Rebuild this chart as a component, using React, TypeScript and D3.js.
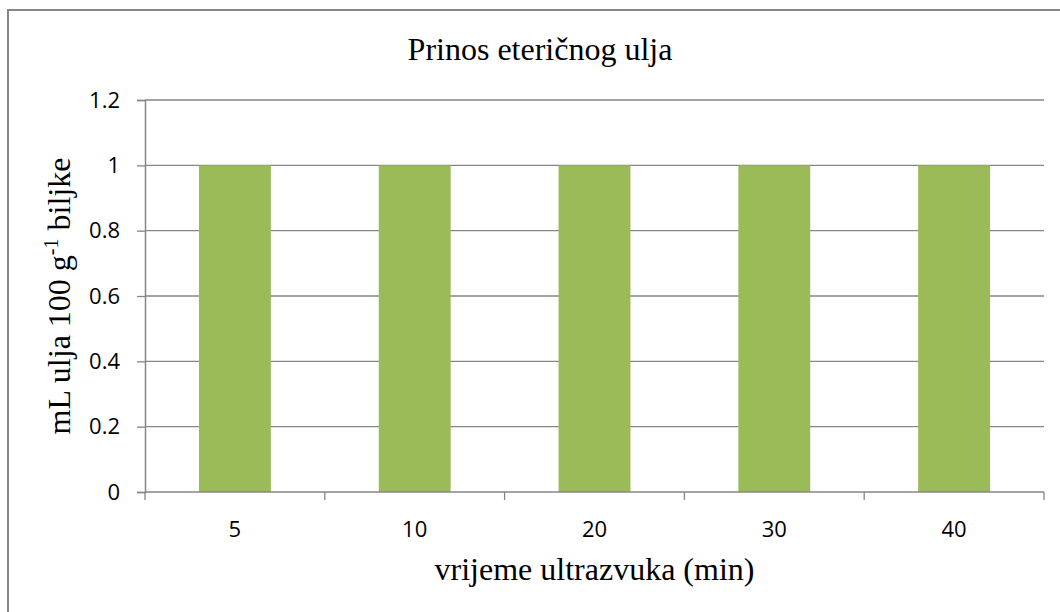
import React, { useEffect, useRef } from 'react';
import * as d3 from 'd3';

const categories = ['5', '10', '20', '30', '40'];
const values = [1, 1, 1, 1, 1];
const yTicks = [0, 0.2, 0.4, 0.6, 0.8, 1, 1.2];

const App = () => {
  const ref = useRef<SVGSVGElement | null>(null);

  useEffect(() => {
    const svg = d3.select(ref.current);
    svg.selectAll('*').remove();

    const W = 1060;
    const H = 612;
    const margin = { top: 100, right: 16, bottom: 120, left: 145 };
    const width = W - margin.left - margin.right;
    const height = H - margin.top - margin.bottom;
    const grey = '#868686';
    const tickFont = '"Open Sans", sans-serif';
    const serif = '"Liberation Serif", "Times New Roman", serif';

    // chart border
    svg
      .append('rect')
      .attr('x', 8)
      .attr('y', 10)
      .attr('width', W)
      .attr('height', H)
      .attr('fill', 'white')
      .attr('stroke', grey)
      .attr('stroke-width', 2);

    const g = svg.append('g').attr('transform', `translate(${margin.left},${margin.top})`);

    const x = d3.scaleBand().domain(categories).range([0, width]).paddingInner(0).paddingOuter(0);
    const y = d3.scaleLinear().domain([0, 1.2]).range([height, 0]);

    // gridlines
    g.append('g')
      .selectAll('line')
      .data(yTicks.filter(d => d > 0))
      .enter()
      .append('line')
      .attr('x1', 0)
      .attr('x2', width)
      .attr('y1', d => y(d))
      .attr('y2', d => y(d))
      .attr('stroke', grey)
      .attr('stroke-width', 1.3);

    // bars (gap width 150%)
    const barW = x.bandwidth() / 2.5;
    g.selectAll('.bar')
      .data(categories.map((c, i) => ({ c, v: values[i] })))
      .enter()
      .append('rect')
      .attr('class', 'bar')
      .attr('x', d => (x(d.c) as number) + (x.bandwidth() - barW) / 2)
      .attr('y', d => y(d.v))
      .attr('width', barW)
      .attr('height', d => height - y(d.v))
      .attr('fill', '#9BBB59');

    // y axis
    const yAxis = g
      .append('g')
      .call(d3.axisLeft(y).tickValues(yTicks).tickSize(8).tickPadding(17).tickFormat(d => String(d)));
    yAxis.select('.domain').attr('stroke', grey).attr('stroke-width', 1.5);
    yAxis.selectAll('.tick line').attr('stroke', grey).attr('stroke-width', 1.3);
    yAxis
      .selectAll('.tick text')
      .attr('fill', '#000')
      .attr('font-family', tickFont)
      .attr('font-size', 22);

    // x axis
    const xAxis = g.append('g').attr('transform', `translate(0,${height})`);
    xAxis
      .append('line')
      .attr('x1', 0)
      .attr('x2', width)
      .attr('y1', 0)
      .attr('y2', 0)
      .attr('stroke', grey)
      .attr('stroke-width', 1.5);
    xAxis
      .selectAll('.xt')
      .data(d3.range(categories.length + 1))
      .enter()
      .append('line')
      .attr('class', 'xt')
      .attr('x1', i => i * x.step())
      .attr('x2', i => i * x.step())
      .attr('y1', 0)
      .attr('y2', 8)
      .attr('stroke', grey)
      .attr('stroke-width', 1.3);
    xAxis
      .selectAll('.xl')
      .data(categories)
      .enter()
      .append('text')
      .attr('class', 'xl')
      .attr('x', d => (x(d) as number) + x.bandwidth() / 2)
      .attr('y', 45)
      .attr('text-anchor', 'middle')
      .attr('font-family', tickFont)
      .attr('font-size', 22)
      .text(d => d);

    // title
    svg
      .append('text')
      .attr('x', 540)
      .attr('y', 60)
      .attr('text-anchor', 'middle')
      .attr('font-family', serif)
      .attr('font-size', 32)
      .text('Prinos eteričnog ulja');

    // x title
    svg
      .append('text')
      .attr('x', margin.left + width / 2)
      .attr('y', 580)
      .attr('text-anchor', 'middle')
      .attr('font-family', serif)
      .attr('font-size', 32)
      .text('vrijeme ultrazvuka (min)');

    // y title
    const yt = svg
      .append('text')
      .attr('transform', `translate(70,${margin.top + height / 2}) rotate(-90)`)
      .attr('text-anchor', 'middle')
      .attr('font-family', serif)
      .attr('font-size', 32);
    yt.append('tspan').text('mL ulja 100 g');
    yt.append('tspan').attr('dy', -12).attr('font-size', 20).text('-1');
    yt.append('tspan').attr('dy', 12).text(' biljke');
  }, []);

  return (
    <svg
      ref={ref}
      width={1060}
      height={612}
      style={{ position: 'absolute', left: 0, top: 0, background: 'white' }}
    />
  );
};

export default App;
